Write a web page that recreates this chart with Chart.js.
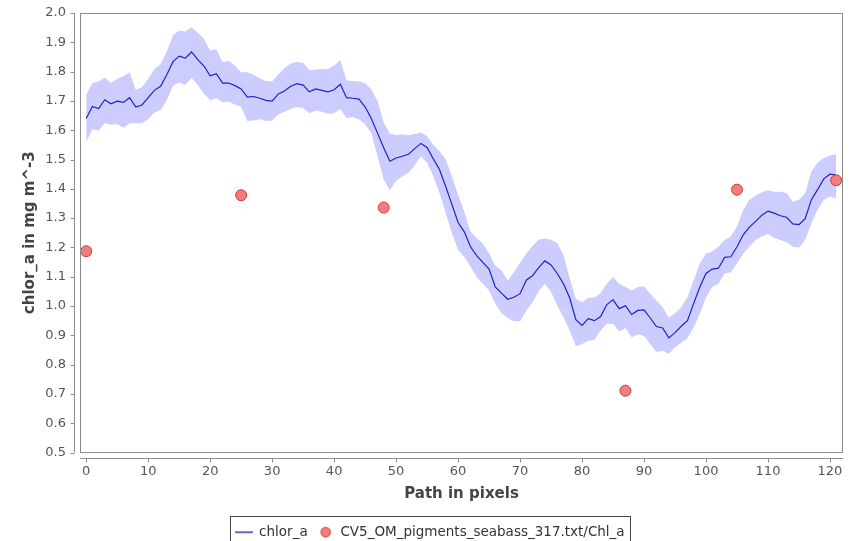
<!DOCTYPE html>
<html>
<head>
<meta charset="utf-8">
<script src="https://cdn.jsdelivr.net/npm/chart.js@4.4.1/dist/chart.umd.min.js"></script>
<style>
  html,body{margin:0;padding:0;background:#fff;overflow:hidden}
  #wrap{width:851px;height:549px}
</style>
</head>
<body>
<div id="wrap"><canvas id="chart" width="851" height="549"></canvas></div>
<script>
// chlor_a along the transect (one value per path pixel, 0..121)
const chlorA = [
  1.640,1.681,1.674,1.704,1.690,1.699,1.695,1.711,1.679,1.686,
  1.711,1.736,1.750,1.789,1.834,1.853,1.846,1.867,1.841,1.819,
  1.786,1.793,1.761,1.761,1.752,1.741,1.713,1.715,1.709,1.702,
  1.699,1.724,1.734,1.750,1.759,1.754,1.731,1.741,1.736,1.731,
  1.738,1.757,1.711,1.709,1.706,1.680,1.640,1.590,1.540,1.494,
  1.505,1.511,1.518,1.537,1.555,1.541,1.502,1.466,1.408,1.347,
  1.285,1.253,1.202,1.172,1.149,1.126,1.065,1.044,1.023,1.030,
  1.042,1.088,1.103,1.131,1.154,1.140,1.111,1.076,1.028,0.953,
  0.934,0.957,0.950,0.964,1.005,1.021,0.991,1.001,0.971,0.985,
  0.987,0.959,0.930,0.925,0.891,0.909,0.931,0.950,1.008,1.065,
  1.111,1.126,1.129,1.166,1.168,1.202,1.243,1.269,1.289,1.310,
  1.324,1.317,1.308,1.303,1.280,1.278,1.298,1.363,1.397,1.434,
  1.450,1.447
];
// upper / lower edge of the shaded band
const chlorUpper = [
  1.720,1.761,1.766,1.779,1.761,1.775,1.784,1.798,1.738,1.747,
  1.775,1.809,1.825,1.869,1.924,1.940,1.937,1.951,1.933,1.912,
  1.871,1.876,1.832,1.837,1.820,1.798,1.798,1.789,1.777,1.768,
  1.766,1.791,1.812,1.828,1.834,1.830,1.805,1.807,1.809,1.809,
  1.821,1.840,1.770,1.768,1.766,1.760,1.740,1.700,1.626,1.588,
  1.584,1.586,1.583,1.587,1.592,1.579,1.550,1.528,1.500,1.443,
  1.380,1.322,1.254,1.232,1.214,1.179,1.138,1.122,1.088,1.115,
  1.148,1.179,1.205,1.226,1.230,1.226,1.214,1.175,1.095,1.025,
  1.012,1.028,1.028,1.044,1.076,1.099,1.076,1.065,1.053,1.065,
  1.067,1.042,1.019,0.996,0.960,0.975,0.996,1.030,1.088,1.145,
  1.179,1.186,1.202,1.225,1.237,1.271,1.328,1.363,1.376,1.388,
  1.395,1.390,1.390,1.386,1.356,1.363,1.386,1.459,1.489,1.505,
  1.514,1.518
];
const chlorLower = [
  1.560,1.603,1.599,1.624,1.619,1.621,1.608,1.624,1.624,1.624,
  1.637,1.660,1.669,1.702,1.752,1.763,1.754,1.779,1.754,1.724,
  1.702,1.709,1.695,1.697,1.688,1.679,1.631,1.633,1.637,1.631,
  1.633,1.654,1.663,1.672,1.679,1.676,1.658,1.667,1.663,1.656,
  1.658,1.672,1.642,1.644,1.637,1.620,1.590,1.511,1.431,1.395,
  1.427,1.443,1.455,1.480,1.511,1.488,1.443,1.386,1.317,1.248,
  1.191,1.168,1.134,1.099,1.076,1.053,1.008,0.975,0.959,0.948,
  0.948,0.985,1.012,1.050,1.076,1.048,1.002,0.962,0.916,0.863,
  0.870,0.881,0.885,0.916,0.939,0.939,0.913,0.925,0.893,0.904,
  0.898,0.870,0.843,0.847,0.836,0.859,0.875,0.890,0.927,0.973,
  1.030,1.065,1.076,1.111,1.115,1.145,1.179,1.202,1.225,1.237,
  1.246,1.232,1.225,1.218,1.202,1.200,1.225,1.282,1.328,1.363,
  1.374,1.367
];
// in-situ measurements
const insituX = [0, 25, 48, 87, 105, 121];
const insituY = [1.187, 1.378, 1.336, 0.711, 1.397, 1.429];

const xTicks = [0,10,20,30,40,50,60,70,80,90,100,110,120];
const yTicks = [0.5,0.6,0.7,0.8,0.9,1.0,1.1,1.2,1.3,1.4,1.5,1.6,1.7,1.8,1.9,2.0];

const LINE_COLOR = 'rgb(32,32,200)';
const BAND_COLOR = 'rgb(204,204,255)';
const DOT_FILL = 'rgb(242,125,125)';
const DOT_EDGE = 'rgb(212,55,55)';
const FONT = '"DejaVu Sans", sans-serif';

const asXY = arr => arr.map((v,i)=>({x:i, y:v}));

// legend icons
function lineIcon(){
  const c = document.createElement('canvas'); c.width = 18; c.height = 4;
  const g = c.getContext('2d');
  g.strokeStyle = LINE_COLOR; g.lineWidth = 1.4;
  g.beginPath(); g.moveTo(0,2); g.lineTo(18,2); g.stroke();
  return c;
}
function dotIcon(){
  const c = document.createElement('canvas'); c.width = 12; c.height = 12;
  const g = c.getContext('2d');
  g.fillStyle = DOT_FILL; g.strokeStyle = DOT_EDGE; g.lineWidth = 1;
  g.beginPath(); g.arc(6,6,4.8,0,Math.PI*2); g.fill(); g.stroke();
  return c;
}

// no extra room for tick label overflow, layout padding decides the plot area
function noPad(s){ s.paddingTop = 0; s.paddingBottom = 0; s.paddingLeft = 0; s.paddingRight = 0; }

// plot frame, offset axis lines, tick marks and legend box
const framePlugin = {
  id: 'frame',
  afterLayout(chart){
    chart.legend.left += 9; chart.legend.right += 9;
  },
  afterDraw(chart){
    const {ctx, chartArea:a, scales:{x, y}} = chart;
    ctx.save();
    ctx.lineWidth = 1;
    ctx.strokeStyle = '#8c8c8c';
    ctx.strokeRect(Math.round(a.left)+0.5, Math.round(a.top)+0.5,
      Math.round(a.right-a.left)-1, Math.round(a.bottom-a.top)-1);

    const ax = Math.round(a.left) - 6 + 0.5;
    ctx.beginPath();
    ctx.moveTo(ax, a.top); ctx.lineTo(ax, a.bottom);
    y.ticks.forEach(t=>{
      const py = Math.round(y.getPixelForValue(t.value)) + 0.5;
      ctx.moveTo(ax, py); ctx.lineTo(ax-4, py);
    });
    const ay = Math.round(a.bottom) + 5 + 0.5;
    ctx.moveTo(a.left, ay); ctx.lineTo(a.right, ay);
    x.ticks.forEach(t=>{
      const px = Math.round(x.getPixelForValue(t.value)) + 0.5;
      ctx.moveTo(px, ay); ctx.lineTo(px, ay+4);
    });
    ctx.stroke();

    const hb = chart.legend.legendHitBoxes;
    if(hb && hb.length){
      const l = hb[0].left - 6, last = hb[hb.length-1];
      const r = last.left + last.width + 6;
      const top = hb[0].top + hb[0].height/2 - 16;
      ctx.strokeStyle = '#444';
      ctx.strokeRect(Math.round(l)+0.5, Math.round(top)+0.5, Math.round(r-l), 60);
    }
    ctx.restore();
  }
};

new Chart(document.getElementById('chart'), {
  type: 'line',
  data: {
    datasets: [
      {label:'chlor_a', data: asXY(chlorA), borderColor: LINE_COLOR, borderWidth: 1.2,
       pointRadius: 0, fill: false, tension: 0, order: 1},
      {type:'scatter', label:'CV5_OM_pigments_seabass_317.txt/Chl_a',
       data: insituX.map((v,i)=>({x:v, y:insituY[i]})),
       backgroundColor: DOT_FILL, borderColor: DOT_EDGE, borderWidth: 1,
       pointRadius: 5.5, order: 0},
      {label:'upper', data: asXY(chlorUpper), borderWidth: 0, borderColor: BAND_COLOR,
       backgroundColor: BAND_COLOR, pointRadius: 0, fill: '+1', order: 3},
      {label:'lower', data: asXY(chlorLower), borderWidth: 0, borderColor: BAND_COLOR,
       backgroundColor: BAND_COLOR, pointRadius: 0, fill: false, order: 3}
    ]
  },
  options: {
    responsive: false,
    animation: false,
    layout: {padding: {left: 0, top: 13, right: 8, bottom: 0}},
    scales: {
      x: {
        type: 'linear', min: -1, max: 122.1,
        afterBuildTicks: s => { s.ticks = xTicks.map(v=>({value:v})); },
        afterFit: s => { s.height = 63; noPad(s); },
        grid: {display: false, drawTicks: false},
        border: {display: false},
        ticks: {padding: 11, color: '#555', font: {family: FONT, size: 13}},
        title: {display: true, text: 'Path in pixels', color: '#444',
                font: {family: FONT, size: 15, weight: 'bold'}, padding: {top: 0, bottom: 12}}
      },
      y: {
        min: 0.5, max: 2.0,
        afterBuildTicks: s => { s.ticks = yTicks.map(v=>({value:v})); },
        afterFit: s => { s.width = 80; noPad(s); },
        grid: {display: false, drawTicks: false},
        border: {display: false},
        ticks: {padding: 14, color: '#555', font: {family: FONT, size: 13},
                callback: v => Number(v).toFixed(1)},
        title: {display: true, text: 'chlor_a in mg m^-3', color: '#444',
                font: {family: FONT, size: 15, weight: 'bold'}, padding: {top: 21, bottom: 0}}
      }
    },
    plugins: {
      tooltip: {enabled: false},
      legend: {
        position: 'bottom',
        labels: {
          usePointStyle: true, pointStyleWidth: 16, padding: 10,
          color: '#333', font: {family: FONT, size: 13.5},
          generateLabels(chart){
            const items = Chart.defaults.plugins.legend.labels.generateLabels(chart)
              .filter(it => it.datasetIndex < 2)
              .sort((a,b) => a.datasetIndex - b.datasetIndex);
            items[0].pointStyle = lineIcon();
            items[1].pointStyle = dotIcon();
            return items;
          }
        }
      }
    }
  },
  plugins: [framePlugin]
});
</script>
</body>
</html>
